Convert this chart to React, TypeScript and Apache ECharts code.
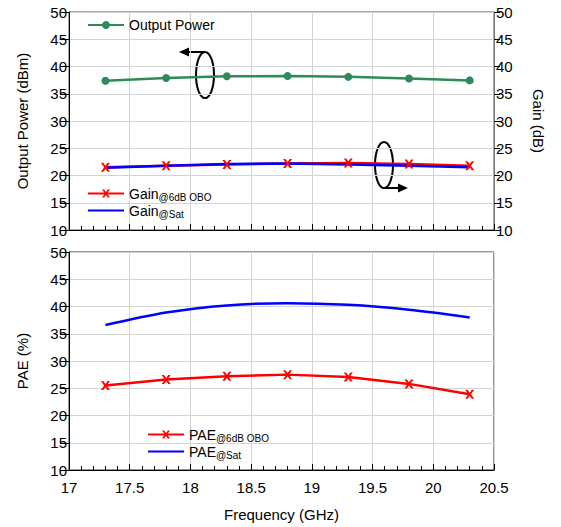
import React, { useEffect, useRef } from "react";
import * as echarts from "echarts";

const freq = [17.3, 17.8, 18.3, 18.8, 19.3, 19.8, 20.3];
const outputPower = [37.4, 37.9, 38.2, 38.25, 38.1, 37.8, 37.45];
const gainObo = [21.5, 21.8, 22.0, 22.2, 22.3, 22.1, 21.8];
const gainSat = [21.4, 21.8, 22.1, 22.2, 22.0, 21.8, 21.5];
const paeObo = [25.5, 26.6, 27.2, 27.5, 27.05, 25.8, 23.9];
const paeSat = [36.6, 38.9, 40.2, 40.6, 40.3, 39.4, 38.0];

const FONT = "Liberation Sans, Arial, sans-serif";
const xSym = "path://M0,0 L2.6,0 5,3.2 7.4,0 10,0 6.4,5 10,10 7.4,10 5,6.8 2.6,10 0,10 3.6,5Z";

const pair = (ys: number[]) => freq.map((f, i) => [f, ys[i]]);

export default function App() {
  const ref = useRef<HTMLDivElement>(null);
  useEffect(() => {
    const chart = echarts.init(ref.current!, null, { renderer: "svg" });
    const rich = {
      a: { fontSize: 14, fontFamily: FONT, color: "#000" },
      b: { fontSize: 10, fontFamily: FONT, color: "#000", verticalAlign: "bottom", padding: [8, 0, 0, 0] },
    };
    const subFmt = (name: string) => {
      const i = name.indexOf("@");
      if (i < 0) return `{a|${name}}`;
      return `{a|${name.slice(0, i)}}{b|${name.slice(i)}}`;
    };
    const xBase = (gi: number, labels: boolean) => ({
      type: "value",
      gridIndex: gi,
      min: 17,
      max: 20.5,
      interval: 0.5,
      axisLine: { show: true, onZero: false, lineStyle: { color: "#000", width: 1 } },
      axisTick: { show: true, inside: true, length: 6, lineStyle: { color: "#000" } },
      minorTick: { show: true, splitNumber: 5, length: 4, lineStyle: { color: "#000" } },
      axisLabel: {
        show: labels,
        color: "#000",
        fontSize: 15,
        fontFamily: FONT,
        margin: 10,
        formatter: (v: number) => String(v),
      },
      splitLine: { show: true, lineStyle: { color: "#d3d3d3", width: 1 } },
      name: labels ? "Frequency (GHz)" : "",
      nameLocation: "middle",
      nameGap: 37,
      nameTextStyle: { color: "#000", fontSize: 15, fontFamily: FONT },
    });
    const yBase = (gi: number, pos: string, name: string) => ({
      type: "value",
      gridIndex: gi,
      position: pos,
      min: 10,
      max: 50,
      interval: 5,
      axisLine: { show: true, lineStyle: { color: pos === "left" ? "#000" : "#777", width: 1 } },
      axisTick: { show: true, inside: false, length: pos === "left" ? 9 : 6, lineStyle: { color: "#000" } },
      axisLabel: { show: true, color: "#000", fontSize: 15, fontFamily: FONT, margin: 2 },
      splitLine: { show: pos === "left", lineStyle: { color: "#d3d3d3", width: 1 } },
      name,
      nameLocation: "middle",
      nameGap: pos === "left" ? 39 : 37,
      nameRotate: pos === "left" ? 90 : -90,
      nameTextStyle: { color: "#000", fontSize: 15, fontFamily: FONT },
    });
    const hideSym = { opacity: 0 };
    chart.setOption({
      animation: false,
      backgroundColor: "#fff",
      textStyle: { fontFamily: FONT },
      grid: [
        { left: 69, right: 67, top: 12, height: 218, show: true, borderColor: "#555", borderWidth: 1 },
        { left: 69, right: 67, top: 252, height: 218, show: true, borderColor: "#333", borderWidth: 1 },
      ],
      xAxis: [xBase(0, false), xBase(1, true)],
      yAxis: [
        yBase(0, "left", "Output Power (dBm)"),
        yBase(0, "right", "Gain (dB)"),
        yBase(1, "left", "PAE (%)"),
      ],
      legend: [
        {
          data: ["Output Power"],
          left: 82,
          top: 13,
          itemWidth: 36,
          itemHeight: 10,
          textStyle: { color: "#000", fontSize: 14, fontFamily: FONT },
        },
        {
          data: ["Gain@6dB OBO", { name: "Gain@Sat", itemStyle: hideSym }],
          orient: "vertical",
          left: 82,
          top: 180,
          itemGap: 0,
          itemWidth: 36,
          itemHeight: 10,
          formatter: subFmt,
          textStyle: { rich, lineHeight: 17 },
        },
        {
          data: ["PAE@6dB OBO", { name: "PAE@Sat", itemStyle: hideSym }],
          orient: "vertical",
          left: 142,
          top: 421,
          itemGap: 0,
          itemWidth: 36,
          itemHeight: 10,
          formatter: subFmt,
          textStyle: { rich, lineHeight: 17 },
        },
      ],
      series: [
        {
          name: "Output Power",
          type: "line",
          xAxisIndex: 0,
          yAxisIndex: 0,
          data: pair(outputPower),
          symbol: "circle",
          symbolSize: 8,
          itemStyle: { color: "#2e8b57" },
          lineStyle: { color: "#2e8b57", width: 2.5 },
        },
        {
          name: "Gain@6dB OBO",
          type: "line",
          xAxisIndex: 0,
          yAxisIndex: 1,
          data: pair(gainObo),
          symbol: xSym,
          symbolSize: 9,
          itemStyle: { color: "#ff0000" },
          lineStyle: { color: "#ff0000", width: 2.5 },
        },
        {
          name: "Gain@Sat",
          type: "line",
          xAxisIndex: 0,
          yAxisIndex: 1,
          data: pair(gainSat),
          symbol: "none",
          itemStyle: { color: "#0000ff" },
          lineStyle: { color: "#0000ff", width: 2.5 },
        },
        {
          name: "PAE@6dB OBO",
          type: "line",
          xAxisIndex: 1,
          yAxisIndex: 2,
          data: pair(paeObo),
          symbol: xSym,
          symbolSize: 9,
          itemStyle: { color: "#ff0000" },
          lineStyle: { color: "#ff0000", width: 2.5 },
        },
        {
          name: "PAE@Sat",
          type: "line",
          xAxisIndex: 1,
          yAxisIndex: 2,
          data: pair(paeSat),
          symbol: "none",
          smooth: 0.3,
          itemStyle: { color: "#0000ff" },
          lineStyle: { color: "#0000ff", width: 2.5 },
        },
      ],
      graphic: [
        { type: "ellipse", shape: { cx: 205, cy: 75, rx: 9, ry: 23 }, style: { fill: "none", stroke: "#000", lineWidth: 2 } },
        { type: "line", shape: { x1: 205, y1: 52, x2: 186, y2: 52 }, style: { stroke: "#000", lineWidth: 2 } },
        { type: "polygon", shape: { points: [[179, 52], [189, 47.5], [189, 56.5]] }, style: { fill: "#000" } },
        { type: "ellipse", shape: { cx: 384, cy: 165, rx: 9, ry: 23 }, style: { fill: "none", stroke: "#000", lineWidth: 2 } },
        { type: "line", shape: { x1: 384, y1: 188, x2: 401, y2: 188 }, style: { stroke: "#000", lineWidth: 2 } },
        { type: "polygon", shape: { points: [[408, 188], [398, 183.5], [398, 192.5]] }, style: { fill: "#000" } },
      ],
    });
    return () => chart.dispose();
  }, []);
  return <div ref={ref} style={{ width: 561, height: 527, position: "absolute", left: 0, top: 0 }} />;
}
